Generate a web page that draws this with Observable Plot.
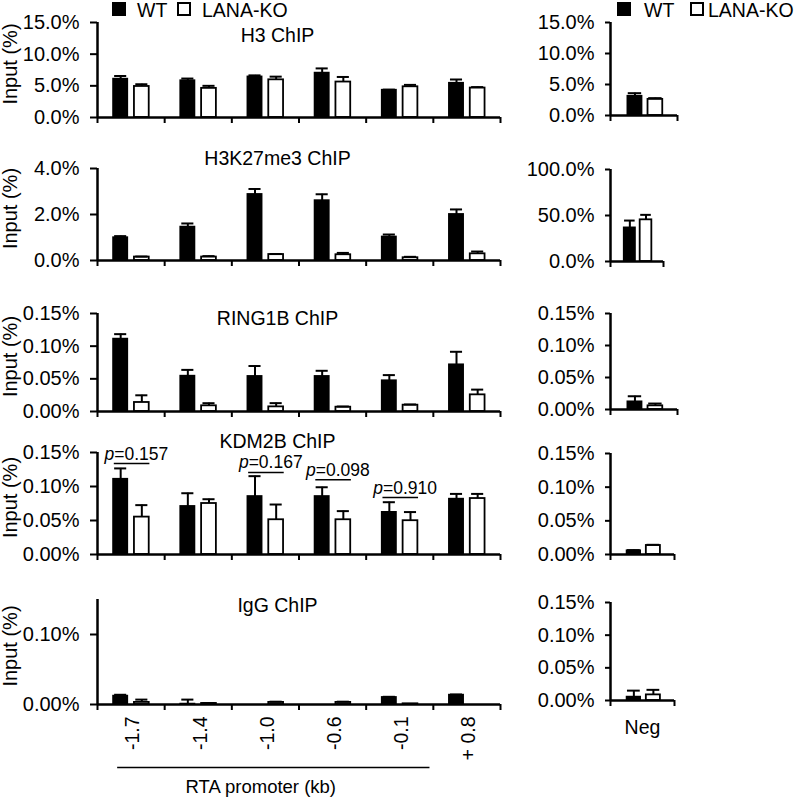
<!DOCTYPE html>
<html><head><meta charset="utf-8">
<script src="https://cdn.jsdelivr.net/npm/d3@7"></script>
<script src="https://cdn.jsdelivr.net/npm/@observablehq/plot@0.6"></script>
<style>
body{margin:0;background:#fff;}
#root{position:relative;width:795px;height:798px;overflow:hidden;font-family:"Liberation Sans",Arial,sans-serif;color:#000;}
.panel{position:absolute;}
.leg{position:absolute;font-size:19.5px;line-height:19px;white-space:nowrap;font-family:"Liberation Sans",Arial,sans-serif;}
.sw{position:absolute;width:14px;height:14px;box-sizing:border-box;border:2px solid #000;}
</style></head><body><div id="root"></div>
<script>
// ---------- data ----------
const groups = ["-1.7", "-1.4", "-1.0", "-0.6", "-0.1", "+ 0.8"];
const negGroup = ["Neg"];
const seriesNames = ["WT", "LANA-KO"];
const panelTitles = ["H3 ChIP", "H3K27me3 ChIP", "RING1B ChIP", "KDM2B ChIP", "IgG ChIP"];
const yAxisLabel = "Input (%)";
const xAxisTitle = "RTA promoter (kb)";

// H3 ChIP (% input)
const h3_wt = [6.05, 5.8, 6.4, 7.0, 4.3, 5.4];
const h3_wt_err = [0.5, 0.35, 0.25, 0.75, 0.1, 0.6];
const h3_ko = [4.9, 4.6, 5.95, 5.6, 4.85, 4.65];
const h3_ko_err = [0.35, 0.4, 0.5, 0.8, 0.3, 0.15];
const h3_neg = [3.1, 2.6];
const h3_neg_err = [0.5, 0.2];
const h3_ticks = [0, 5, 10, 15];
const h3_neg_ticks = [0, 5, 10, 15];

// H3K27me3 ChIP
const k27_wt = [0.99, 1.45, 2.87, 2.6, 1.02, 2.0];
const k27_wt_err = [0.07, 0.16, 0.24, 0.28, 0.11, 0.22];
const k27_ko = [0.15, 0.15, 0.26, 0.25, 0.12, 0.29];
const k27_ko_err = [0.02, 0.04, 0.02, 0.08, 0.04, 0.1];
const k27_neg = [36.5, 45.3];
const k27_neg_err = [8, 5.4];
const k27_ticks = [0, 2, 4];
const k27_neg_ticks = [0, 50, 100];

// RING1B ChIP
const ring_wt = [0.1107, 0.054, 0.0536, 0.0536, 0.047, 0.0714];
const ring_wt_err = [0.0077, 0.0097, 0.016, 0.0087, 0.0087, 0.02];
const ring_ko = [0.0138, 0.0087, 0.0071, 0.0066, 0.0097, 0.0255];
const ring_ko_err = [0.011, 0.004, 0.0057, 0.001, 0.001, 0.008];
const ring_neg = [0.0119, 0.0057];
const ring_neg_err = [0.0088, 0.0036];
const small_ticks = [0, 0.05, 0.1, 0.15];

// KDM2B ChIP
const kdm_wt = [0.1106, 0.0706, 0.0852, 0.0852, 0.0619, 0.0813];
const kdm_wt_err = [0.016, 0.0195, 0.030, 0.0137, 0.015, 0.0078];
const kdm_ko = [0.055, 0.075, 0.0511, 0.0511, 0.0497, 0.0823];
const kdm_ko_err = [0.0176, 0.0063, 0.0224, 0.0127, 0.0127, 0.0068];
const kdm_neg = [0.0055, 0.0134];
const kdm_neg_err = [0.001, 0.001];
const kdm_p_groups = [0, 2, 3, 4];
const kdm_p_values = ["0.157", "0.167", "0.098", "0.910"];
const kdm_p_levels = [0.1338, 0.1206, 0.110, 0.0838];

// IgG ChIP
const igg_wt = [0.0119, 0.0005, 0, 0, 0.01, 0.0133];
const igg_wt_err = [0.002, 0.0065, 0, 0, 0.001, 0.001];
const igg_ko = [0.003, 0.0015, 0.003, 0.003, 0.001, 0];
const igg_ko_err = [0.004, 0.0003, 0.001, 0.001, 0, 0];
const igg_neg = [0.0051, 0.0086];
const igg_neg_err = [0.01, 0.0077];
const igg_ticks = [0, 0.1];

// ---------- build tables ----------
function rowsOf(wt, wtErr, ko, koErr) {
  const r = [];
  wt.forEach((v, i) => r.push({g: i, s: seriesNames[0], v, e: wtErr[i]}));
  ko.forEach((v, i) => r.push({g: i, s: seriesNames[1], v, e: koErr[i]}));
  return r;
}
function negRows(vals, errs) {
  return vals.map((v, i) => ({g: 0, s: seriesNames[i], v, e: errs[i]}));
}
const fmt1 = d => d.toFixed(1) + "%";
const fmt2 = d => d.toFixed(2) + "%";

const leftPanels = [
  {rows: rowsOf(h3_wt, h3_wt_err, h3_ko, h3_ko_err), max: 15, ticks: h3_ticks, fmt: fmt1},
  {rows: rowsOf(k27_wt, k27_wt_err, k27_ko, k27_ko_err), max: 4, ticks: k27_ticks, fmt: fmt1},
  {rows: rowsOf(ring_wt, ring_wt_err, ring_ko, ring_ko_err), max: 0.15, ticks: small_ticks, fmt: fmt2},
  {rows: rowsOf(kdm_wt, kdm_wt_err, kdm_ko, kdm_ko_err), max: 0.15, ticks: small_ticks, fmt: fmt2},
  {rows: rowsOf(igg_wt, igg_wt_err, igg_ko, igg_ko_err), max: 0.15, ticks: igg_ticks, fmt: fmt2}
];
const rightPanels = [
  {rows: negRows(h3_neg, h3_neg_err), max: 15, ticks: h3_neg_ticks, fmt: fmt1},
  {rows: negRows(k27_neg, k27_neg_err), max: 100, ticks: k27_neg_ticks, fmt: fmt1},
  {rows: negRows(ring_neg, ring_neg_err), max: 0.15, ticks: small_ticks, fmt: fmt2},
  {rows: negRows(kdm_neg, kdm_neg_err), max: 0.15, ticks: small_ticks, fmt: fmt2},
  {rows: negRows(igg_neg, igg_neg_err), max: 0.15, ticks: small_ticks, fmt: fmt2}
];
const pRows = kdm_p_groups.map((g, i) => ({g, val: kdm_p_values[i], level: kdm_p_levels[i]}));

// ---------- layout (pixels) ----------
const leftLayout = [
  {top: 22, zero: 117, titleDy: 13},
  {top: 168, zero: 260, titleDy: -10},
  {top: 313, zero: 411, titleDy: 5},
  {top: 452, zero: 554, titleDy: -11},
  {top: 599, zero: 704, titleDy: 6}
];
const rightLayout = [
  {top: 22, zero: 115, w: 67},
  {top: 169, zero: 261, w: 53},
  {top: 313, zero: 409, w: 67},
  {top: 453, zero: 554, w: 64},
  {top: 602, zero: 700, w: 64}
];
const STYLE = "font-family: 'Liberation Sans', Arial, Helvetica, sans-serif; font-size: 19px; background: transparent; overflow: visible; color: #000;";
const FONT = "Liberation Sans, Arial, sans-serif";
const barPos = {"WT": [0.24, 0.45], "LANA-KO": [0.55, 0.77]};
const negBarPos = {"WT": [0.26, 0.47], "LANA-KO": [0.56, 0.78]};

const root = document.getElementById("root");

function place(el, left, top) {
  const d = document.createElement("div");
  d.className = "panel";
  d.style.left = left + "px";
  d.style.top = top + "px";
  d.appendChild(el);
  root.appendChild(d);
}

function barMarks(rows, pos, capHalf) {
  const c = d => d.g + (pos[d.s][0] + pos[d.s][1]) / 2;
  const withErr = rows.filter(d => d.e > 0);
  return [
    Plot.rect(rows, {
      x1: d => d.g + pos[d.s][0], x2: d => d.g + pos[d.s][1],
      y1: () => 0, y2: "v",
      fill: d => d.s === seriesNames[0] ? "#000" : "#fff",
      stroke: "#000", strokeWidth: 1.8
    }),
    Plot.ruleX(withErr, {x: c, y1: "v", y2: d => d.v + d.e, stroke: "#000", strokeWidth: 2}),
    Plot.ruleY(withErr, {y: d => d.v + d.e, x1: d => c(d) - capHalf, x2: d => c(d) + capHalf, stroke: "#000", strokeWidth: 2})
  ];
}

function yAxisMarks(p, tickSize, gap) {
  return [
    Plot.axisY({ticks: p.ticks, tickFormat: () => "", tickSize, label: null, strokeWidth: 2}),
    Plot.text(p.ticks, {x: () => 0, y: d => d, text: p.fmt, textAnchor: "end", lineAnchor: "middle", dx: -gap, fontSize: 20, fontFamily: FONT})
  ];
}

const MT = 20;
leftPanels.forEach((p, k) => {
  const L = leftLayout[k];
  const last = k === leftPanels.length - 1;
  const mb = last ? 94 : 20;
  const h = MT + (L.zero - L.top) + mb;
  const n = groups.length;
  const marks = [
    ...barMarks(p.rows, barPos, 0.09),
    Plot.ruleY([0], {stroke: "#000", strokeWidth: 2.5}),
    Plot.ruleX([0], {stroke: "#000", strokeWidth: 2.5}),
    ...yAxisMarks(p, 7, 18),
    Plot.axisX({ticks: d3.range(n + 1), tickFormat: () => "", tickSize: 6, label: null, strokeWidth: 2}),
    Plot.text([panelTitles[k]], {frameAnchor: "top", dx: -21.5, dy: L.titleDy, lineAnchor: "middle", fontSize: 19.5, fontFamily: FONT}),
    Plot.text([yAxisLabel], {frameAnchor: "left", rotate: -90, dx: -87, dy: -6, lineAnchor: "middle", textAnchor: "middle", fontSize: 20, fontFamily: FONT})
  ];
  if (k === 3) {
    marks.push(
      Plot.ruleY(pRows, {y: "level", x1: d => d.g + 0.25, x2: d => d.g + 0.78, stroke: "#000", strokeWidth: 1.5}),
      Plot.text(pRows, {x: d => d.g + 0.25, y: "level", text: () => "p", fontStyle: "italic", textAnchor: "end", lineAnchor: "bottom", dy: -4, fontSize: 17.5, fontFamily: FONT}),
      Plot.text(pRows, {x: d => d.g + 0.25, y: "level", text: d => "=" + d.val, textAnchor: "start", lineAnchor: "bottom", dy: -4, fontSize: 17.5, fontFamily: FONT})
    );
  }
  if (last) {
    marks.push(
      Plot.text(groups, {x: (d, i) => i + 0.5, y: () => 0, rotate: -90, textAnchor: "end", lineAnchor: "middle", dy: 12, dx: 2, fontSize: 19.5, fontFamily: FONT}),
      Plot.ruleY([0], {x1: () => 0.3, x2: () => 4.95, dy: 63, stroke: "#000", strokeWidth: 1.5}),
      Plot.text([xAxisTitle], {x: () => (0.3 + 4.95) / 2, y: () => 0, dy: 83, dx: -13, lineAnchor: "middle", fontSize: 18.5, fontFamily: FONT})
    );
  }
  const svg = Plot.plot({
    width: 520, height: h,
    marginLeft: 97, marginRight: 20, marginTop: MT, marginBottom: mb,
    x: {domain: [0, n]},
    y: {domain: [0, p.max]},
    style: STYLE,
    marks
  });
  place(svg, 0, L.top - MT);
});

rightPanels.forEach((p, k) => {
  const L = rightLayout[k];
  const last = k === rightPanels.length - 1;
  const mb = last ? 60 : 20;
  const h = MT + (L.zero - L.top) + mb;
  const marks = [
    ...barMarks(p.rows, negBarPos, 0.1),
    Plot.ruleY([0], {stroke: "#000", strokeWidth: 2.5}),
    Plot.ruleX([0], {stroke: "#000", strokeWidth: 2.5}),
    ...yAxisMarks(p, 5, 16),
    Plot.axisX({ticks: [0, 1], tickFormat: () => "", tickSize: 6, label: null, strokeWidth: 2})
  ];
  if (last) {
    marks.push(Plot.text(negGroup, {x: () => 0.5, y: () => 0, dy: 27, lineAnchor: "middle", fontSize: 19.5, fontFamily: FONT}));
  }
  const svg = Plot.plot({
    width: 275, height: h,
    marginLeft: 90, marginRight: 275 - 90 - L.w, marginTop: MT, marginBottom: mb,
    x: {domain: [0, 1]},
    y: {domain: [0, p.max]},
    style: STYLE,
    marks
  });
  place(svg, 520, L.top - MT);
});

// ---------- legends ----------
function legend(items) {
  items.forEach(it => {
    if (it.type === "sw") {
      const s = document.createElement("div");
      s.className = "sw";
      s.style.left = it.x + "px";
      s.style.top = "2px";
      s.style.background = it.fill;
      root.appendChild(s);
    } else {
      const t = document.createElement("div");
      t.className = "leg";
      t.style.left = it.x + "px";
      t.style.top = "1px";
      t.textContent = it.text;
      root.appendChild(t);
    }
  });
}
legend([
  {type: "sw", x: 112, fill: "#000"}, {type: "t", x: 137, text: seriesNames[0]},
  {type: "sw", x: 177, fill: "#fff"}, {type: "t", x: 202, text: seriesNames[1]},
  {type: "sw", x: 617, fill: "#000"}, {type: "t", x: 644, text: seriesNames[0]},
  {type: "sw", x: 690, fill: "#fff"}, {type: "t", x: 708, text: seriesNames[1]}
]);
</script>
</body></html>
